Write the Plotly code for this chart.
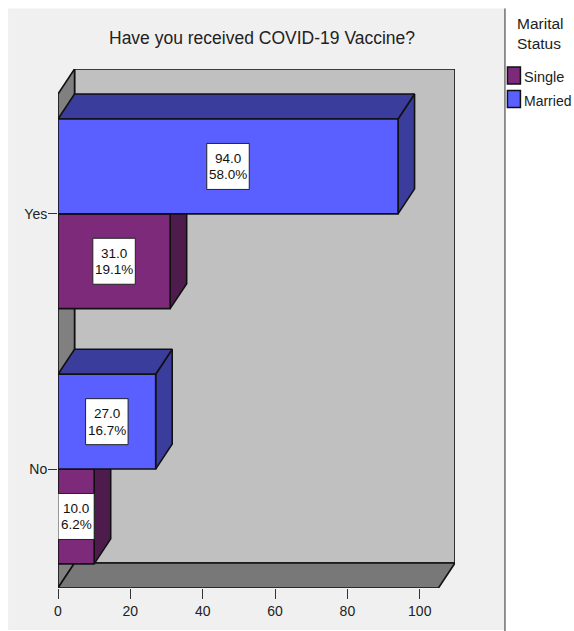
import plotly.graph_objects as go

# Survey counts and shares by vaccination answer
answers = ["No", "Yes"]
single_counts = [10.0, 31.0]
married_counts = [27.0, 94.0]
single_shares = [6.2, 19.1]
married_shares = [16.7, 58.0]
x_ticks = [0, 20, 40, 60, 80, 100]

W, H = 574, 631
L, R, T, B = 58, 455.5, 68.5, 588
X_MAX = 109.75
Y_MIN, Y_MAX = -0.466, 1.5675
BAR_H = 0.3715
DX, DY = 4.57, 0.098  # oblique depth of the 3D look, in axis units

FONT = "Liberation Sans"
INK = "#222222"
COLORS = {
    "single": ("#7e2a7b", "#4e1b4d"),
    "married": ("#5a60ff", "#3a3d9c"),
}


def px(x):
    return (x - L) / (R - L)


def py(y):
    return (B - y) / (B - T)


def poly(xs, ys, color, width=1.6):
    return go.Scatter(
        x=xs + xs[:1], y=ys + ys[:1], mode="lines", fill="toself",
        fillcolor=color, line=dict(color="#111111", width=width),
        hoverinfo="skip", showlegend=False,
    )


fig = go.Figure()

# Box walls: back, left side, floor
fig.add_trace(poly([DX, X_MAX, X_MAX, DX],
                   [Y_MIN + DY, Y_MIN + DY, Y_MAX, Y_MAX], "#c0c0c0"))
fig.add_trace(poly([0, DX, DX, 0],
                   [Y_MIN, Y_MIN + DY, Y_MAX, Y_MAX - DY], "#808080"))
fig.add_trace(poly([0, DX, X_MAX, X_MAX - DX],
                   [Y_MIN, Y_MIN + DY, Y_MIN + DY, Y_MIN], "#787878"))


def add_bar(value, y0, y1, colors):
    front, dark = colors
    fig.add_trace(poly([value, value + DX, value + DX, value],
                       [y0, y0 + DY, y1 + DY, y1], dark))
    fig.add_trace(poly([0, DX, value + DX, value],
                       [y1, y1 + DY, y1 + DY, y1], dark))
    fig.add_trace(poly([0, value, value, 0], [y0, y0, y1, y1], front))


label_boxes = []
label_texts = []


def add_label(value, share, yc):
    box_w = min(42.5, value * (R - L) / X_MAX)
    label_boxes.append(dict(
        type="rect", xref="x", yref="y", layer="above",
        xsizemode="pixel", ysizemode="pixel",
        xanchor=value / 2, yanchor=yc,
        x0=-box_w / 2, x1=box_w / 2, y0=-23, y1=23,
        fillcolor="white", line=dict(color="#222222", width=1),
    ))
    for text, shift in ((f"{value:.1f}", 8), (f"{share:.1f}%", -8.5)):
        label_texts.append(dict(
            x=value / 2, y=yc, xref="x", yref="y", text=text, showarrow=False,
            yshift=shift, font=dict(family=FONT, size=13.5, color="#111111"),
        ))


for i in range(len(answers)):
    add_bar(single_counts[i], i - BAR_H, i, COLORS["single"])
    add_bar(married_counts[i], i, i + BAR_H, COLORS["married"])
    add_label(single_counts[i], single_shares[i], i - BAR_H / 2)
    add_label(married_counts[i], married_shares[i], i + BAR_H / 2)

# Chart panel, legend divider and legend swatches
panel = [
    dict(type="rect", xref="paper", yref="paper", layer="below",
         x0=px(8), x1=px(505.5), y0=py(630), y1=py(8),
         fillcolor="#f0f0f0", line_width=0),
    dict(type="line", xref="paper", yref="paper", layer="below",
         x0=px(505.5), x1=px(505.5), y0=py(631), y1=py(8),
         line=dict(color="#707070", width=1.5)),
]
for top, key in ((66.5, "single"), (90, "married")):
    panel.append(dict(type="rect", xref="paper", yref="paper",
                      x0=px(508), x1=px(521), y0=py(top + 17), y1=py(top),
                      fillcolor=COLORS[key][0],
                      line=dict(color="#111111", width=1.5)))


def page_text(text, x, y, size, anchor="left"):
    return dict(xref="paper", yref="paper", x=px(x), y=py(y), text=text,
                showarrow=False, xanchor=anchor, yanchor="middle",
                font=dict(family=FONT, size=size, color=INK))


notes = [
    page_text("Have you received COVID-19 Vaccine?", 262.5, 37, 17.5, "center"),
    page_text("Marital", 516, 23, 15.5),
    page_text("Status", 516, 43, 15.5),
    page_text("Single", 523, 76.5, 14.5),
    page_text("Married", 523, 101, 14),
]

fig.update_layout(
    width=W, height=H, autosize=False, paper_bgcolor="white",
    plot_bgcolor="rgba(0,0,0,0)",
    margin=dict(l=L, r=W - R, t=T, b=H - B, pad=0),
    showlegend=False, shapes=panel + label_boxes,
    annotations=notes + label_texts,
    xaxis=dict(range=[0, X_MAX], tickvals=x_ticks, ticks="outside", ticklen=10,
               tickcolor="#333333", tickwidth=1.3, showgrid=False, zeroline=False,
               showline=False, tickfont=dict(family=FONT, size=14, color=INK)),
    yaxis=dict(range=[Y_MIN, Y_MAX], tickvals=list(range(len(answers))),
               ticktext=answers, ticks="outside", ticklen=9, tickcolor="#333333",
               tickwidth=1.3, showgrid=False, zeroline=False, showline=False,
               ticklabelstandoff=-2,
               tickfont=dict(family=FONT, size=14, color=INK)),
)

fig.write_html("out.html", config={"displayModeBar": False})
